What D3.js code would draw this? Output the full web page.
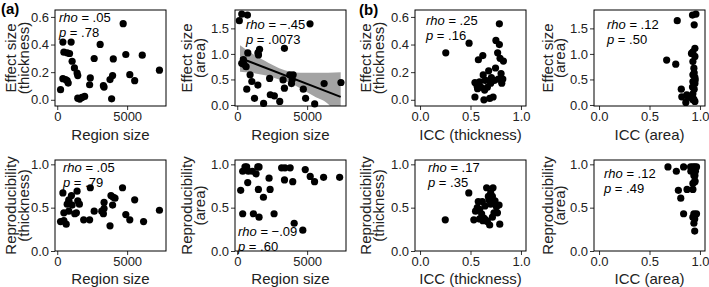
<!DOCTYPE html>
<html>
<head>
<meta charset="utf-8">
<script src="https://cdn.jsdelivr.net/npm/d3@7"></script>
<style>
  body { margin: 0; background: #fff; }
  svg { display: block; font-family: "Liberation Sans", Arial, sans-serif; }
</style>
</head>
<body>
<div id="chart"></div>
<script>
// region size vs effect size (thickness)
const sizeEsThick = [237,405,475,405,713,880,594,785,713,993,1065,1230,1420,1467,1467,1610,1770,1960,2317,2364,2643,3070,3302,3350,3776,3890,3960,4010,4716,4905,5190,5540,6082,7310];
const esThick = [.073,.418,.345,.153,.340,.335,.146,.121,.138,.418,.279,.231,.194,.175,.012,.005,.017,.024,.109,.158,.299,.401,.102,.092,.146,.007,.175,.296,.551,.328,.182,.138,.323,.214];

// region size vs effect size (area)
const sizeEsArea = [150,322,730,322,440,755,634,920,1045,682,1235,1475,1475,1596,1520,1886,2317,2365,2655,3040,3280,3375,3375,3760,3880,4000,3930,4725,4890,5205,5540,6215,7420,480];
const esArea = [1.65,1.78,1.76,.815,.89,1.02,.75,.59,.46,.31,.13,.39,1.02,1.09,.98,.03,.52,.20,.18,.07,.49,.33,1.11,.59,.42,.59,.50,.31,.13,1.59,.02,.42,.44,.80];

// regression line + confidence band (area panel)
const fitX = [200, 7400];
const fitY = [0.92, 0.16];
const bandX = [200, 1000, 2000, 3000, 3800, 4500, 5500, 6500, 7400];
const bandHi = [1.17, 1.02, 0.86, 0.72, 0.65, 0.63, 0.63, 0.63, 0.64];
const bandLo = [0.65, 0.63, 0.58, 0.50, 0.43, 0.33, 0.17, 0.02, -0.30];

// ICC (thickness) vs effect size (thickness)
const iccEsThick = [.255,.486,.578,.622,.544,.565,.57,.59,.605,.544,.633,.667,.646,.68,.69,.707,.735,.69,.724,.748,.752,.776,.786,.769,.786,.793,.803,.81,.826,.82,.70,.64,.626];
const esThickIcc = [.34,.41,.29,.32,.125,.10,.08,.13,.09,.02,.00,.09,.14,.21,.14,.16,.14,.01,.02,.23,.43,.15,.40,.34,.55,.30,.19,.12,.28,.15,.12,.07,.18];

// ICC (area) vs effect size (area)
const iccEsArea = [.67,.76,.775,.815,.82,.86,.87,.905,.93,.94,.926,.96,.943,.916,.93,.95,.93,.95,.94,.93,.95,.93,.95,.926,.943,.93,.95,.93,.953,.943,.88];
const esAreaIcc = [.88,.80,1.65,.31,.16,.05,.20,.15,.13,.11,1.76,1.78,1.57,1.01,1.04,1.11,.85,.95,.72,.59,.54,.46,.42,.35,.31,.10,.07,.22,.49,.63,.17];

// region size vs reproducibility (thickness)
const sizeRepThick = [237,405,475,475,641,713,830,830,830,1018,1065,1253,1370,1420,1467,1585,1890,2317,2364,2643,3184,3302,3350,3350,3776,3844,3960,4010,4130,4670,4905,5190,5540,6176,7310];
const repThick = [.34,.67,.44,.35,.31,.54,.59,.57,.46,.64,.53,.43,.44,.69,.58,.54,.36,.36,.73,.46,.46,.43,.56,.49,.29,.64,.53,.62,.61,.73,.42,.36,.59,.34,.47];

// region size vs reproducibility (area)
const sizeRepArea = [246,390,390,555,676,795,750,1085,1155,1347,1465,1560,1514,1560,1873,2277,2350,2636,3175,3415,3380,3786,3970,4073,4690,4865,5220,5530,6177,7325];
const repArea = [.70,.92,.43,.97,.97,.92,.79,.92,.43,.89,.97,.97,.71,.39,.62,.84,.71,.43,.96,.96,.82,.96,.80,.32,.24,.94,.86,.80,.85,.85];

// ICC (thickness) vs reproducibility (thickness)
const iccRepThick = [.25,.483,.533,.55,.577,.567,.59,.617,.643,.66,.723,.70,.677,.717,.743,.683,.70,.61,.633,.59,.65,.623,.667,.69,.717,.733,.767,.783,.757,.79];
const repThickIcc = [.36,.67,.36,.46,.57,.50,.48,.57,.52,.73,.73,.67,.63,.63,.58,.59,.54,.43,.38,.37,.36,.35,.34,.30,.39,.44,.44,.53,.51,.31];

// ICC (area) vs reproducibility (area)
const iccRepArea = [.683,.766,.838,.786,.81,.838,.872,.93,.907,.93,.948,.966,.91,.955,.94,.95,.95,.95,.93,.94,.966,.93,.948,.94,.948];
const repAreaIcc = [.97,.92,.97,.70,.61,.43,.71,.71,.97,.97,.97,.97,.92,.92,.87,.87,.81,.80,.78,.43,.43,.39,.37,.32,.23];

// stats text
const rhoText = [".05", "\u2212.45", ".25", ".12", ".05", "\u2212.09", ".17", ".12"];
const pText = [".78", ".0073", ".16", ".50", ".79", ".60", ".35", ".49"];

const sizeTicks = [0, 5000];
const iccTicks = [0, 0.5, 1];
const esThickTicks = [0, 0.2, 0.4, 0.6];
const esAreaTicks = [0, 0.5, 1, 1.5];
const repTicks = [0, 0.5, 1];

const width = 709;
const height = 287;

const svg = d3.select("#chart")
    .append("svg")
    .attr("width", width)
    .attr("height", height);

const colLeft = [55, 235, 415, 594];
const panelW = 111;
const rowTop = [10, 160];
const rowBottom = [106, 251];
const xtitleY = [134, 278];
const ytitleX = [[10, 23], [186, 199], [365, 378], [547, 559]];

const sizeDom = [-160, 7780];
const iccDom = [-0.05, 1.05];

const panels = [
    { col: 0, row: 0, x: sizeEsThick, y: esThick, xd: sizeDom, yd: [-0.045, 0.65], xt: sizeTicks, yt: esThickTicks, xf: d3.format("d"), yf: d3.format(".1f"),
      xlab: "Region size", ylab: ["Effect size", "(thickness)"], ann: [59, 17] },
    { col: 1, row: 0, x: sizeEsArea, y: esArea, xd: sizeDom, yd: [-0.02, 1.86], xt: sizeTicks, yt: esAreaTicks, xf: d3.format("d"), yf: d3.format(".1f"),
      xlab: "Region size", ylab: ["Effect size", "(area)"], ann: [246, 24], fit: true },
    { col: 2, row: 0, x: iccEsThick, y: esThickIcc, xd: iccDom, yd: [-0.045, 0.65], xt: iccTicks, yt: esThickTicks, xf: d3.format(".1f"), yf: d3.format(".1f"),
      xlab: "ICC (thickness)", ylab: ["Effect size", "(thickness)"], ann: [426, 20] },
    { col: 3, row: 0, x: iccEsArea, y: esAreaIcc, xd: iccDom, yd: [-0.02, 1.86], xt: iccTicks, yt: esAreaTicks, xf: d3.format(".1f"), yf: d3.format(".1f"),
      xlab: "ICC (area)", ylab: ["Effect size", "(area)"], ann: [607, 24] },
    { col: 0, row: 1, x: sizeRepThick, y: repThick, xd: sizeDom, yd: [0, 1.05], xt: sizeTicks, yt: repTicks, xf: d3.format("d"), yf: d3.format(".1f"),
      xlab: "Region size", ylab: ["Reproducibility", "(thickness)"], ann: [63, 167] },
    { col: 1, row: 1, x: sizeRepArea, y: repArea, xd: sizeDom, yd: [0, 1.05], xt: sizeTicks, yt: repTicks, xf: d3.format("d"), yf: d3.format(".1f"),
      xlab: "Region size", ylab: ["Reproducibility", "(area)"], ann: [238, 231] },
    { col: 2, row: 1, x: iccRepThick, y: repThickIcc, xd: iccDom, yd: [0, 1.05], xt: iccTicks, yt: repTicks, xf: d3.format(".1f"), yf: d3.format(".1f"),
      xlab: "ICC (thickness)", ylab: ["Reproducibility", "(thickness)"], ann: [428, 167] },
    { col: 3, row: 1, x: iccRepArea, y: repAreaIcc, xd: iccDom, yd: [0, 1.05], xt: iccTicks, yt: repTicks, xf: d3.format(".1f"), yf: d3.format(".1f"),
      xlab: "ICC (area)", ylab: ["Reproducibility", "(area)"], ann: [604, 173] },
];

panels.forEach(function (p, i) {
    const x0 = colLeft[p.col];
    const x1 = x0 + panelW;
    const y0 = rowTop[p.row];
    const y1 = rowBottom[p.row];

    const xScale = d3.scaleLinear().domain(p.xd).range([x0, x1]);
    const yScale = d3.scaleLinear().domain(p.yd).range([y1, y0]);

    const clipId = `clip-${i}`;
    svg.append("clipPath").attr("id", clipId)
        .append("rect")
        .attr("x", x0).attr("y", y0)
        .attr("width", x1 - x0).attr("height", y1 - y0);

    // confidence band + fit line
    if (p.fit) {
        const band = bandX.map((d, k) => ({ x: d, lo: bandLo[k], hi: bandHi[k] }));
        svg.append("path")
            .datum(band)
            .attr("clip-path", `url(#${clipId})`)
            .attr("fill", "#a3a3a3")
            .attr("d", d3.area()
                .x(d => xScale(d.x))
                .y0(d => yScale(d.lo))
                .y1(d => yScale(d.hi))
                .curve(d3.curveMonotoneX));
        svg.append("line")
            .attr("x1", xScale(fitX[0])).attr("y1", yScale(fitY[0]))
            .attr("x2", xScale(fitX[1])).attr("y2", yScale(fitY[1]))
            .attr("stroke", "#000")
            .attr("stroke-width", 2);
    }

    // points
    svg.append("g")
        .selectAll("circle")
        .data(p.x)
        .join("circle")
        .attr("cx", d => xScale(d))
        .attr("cy", (d, k) => yScale(p.y[k]))
        .attr("r", 3.6)
        .attr("fill", "#000");

    // axes
    const xAxis = svg.append("g")
        .attr("transform", `translate(0, ${y1})`)
        .call(d3.axisBottom(xScale).tickValues(p.xt).tickFormat(p.xf).tickSize(4).tickPadding(2).tickSizeOuter(0));
    const yAxis = svg.append("g")
        .attr("transform", `translate(${x0}, 0)`)
        .call(d3.axisLeft(yScale).tickValues(p.yt).tickFormat(p.yf).tickSize(4).tickPadding(2).tickSizeOuter(0));
    [xAxis, yAxis].forEach(function (a) {
        a.select(".domain").remove();
        a.selectAll("line").attr("stroke", "#333");
        a.selectAll("text")
            .attr("font-size", "13px")
            .attr("fill", "#222")
            .attr("font-family", "Liberation Sans, Arial, sans-serif");
    });

    // border
    svg.append("rect")
        .attr("x", x0).attr("y", y0)
        .attr("width", x1 - x0).attr("height", y1 - y0)
        .attr("fill", "none")
        .attr("stroke", "#000")
        .attr("stroke-width", 1);

    // x title
    svg.append("text")
        .attr("x", (x0 + x1) / 2)
        .attr("y", xtitleY[p.row])
        .attr("text-anchor", "middle")
        .attr("dominant-baseline", "central")
        .attr("font-size", "15px")
        .attr("fill", "#222")
        .text(p.xlab);

    // y title (two lines)
    const yc = (y0 + y1) / 2;
    p.ylab.forEach(function (t, k) {
        const tx = ytitleX[p.col][k];
        svg.append("text")
            .attr("transform", `translate(${tx}, ${yc}) rotate(-90)`)
            .attr("text-anchor", "middle")
            .attr("dominant-baseline", "central")
            .attr("font-size", "15px")
            .attr("fill", "#222")
            .text(t);
    });

    // stats annotation
    const t1 = svg.append("text")
        .attr("x", p.ann[0]).attr("y", p.ann[1])
        .attr("dominant-baseline", "central")
        .attr("font-size", "13px")
        .attr("fill", "#000");
    t1.append("tspan").attr("font-style", "italic").text("rho");
    t1.append("tspan").text(" = " + rhoText[i]);
    const t2 = svg.append("text")
        .attr("x", p.ann[0]).attr("y", p.ann[1] + 15)
        .attr("dominant-baseline", "central")
        .attr("font-size", "13px")
        .attr("fill", "#000");
    t2.append("tspan").attr("font-style", "italic").text("p");
    t2.append("tspan").text(" = " + pText[i]);
});

// panel tags
svg.append("text")
    .attr("x", 1).attr("y", 8)
    .attr("dominant-baseline", "central")
    .attr("font-size", "15px")
    .attr("font-weight", "bold")
    .text("(a)");
svg.append("text")
    .attr("x", 359).attr("y", 9)
    .attr("dominant-baseline", "central")
    .attr("font-size", "15px")
    .attr("font-weight", "bold")
    .text("(b)");
</script>
</body>
</html>
